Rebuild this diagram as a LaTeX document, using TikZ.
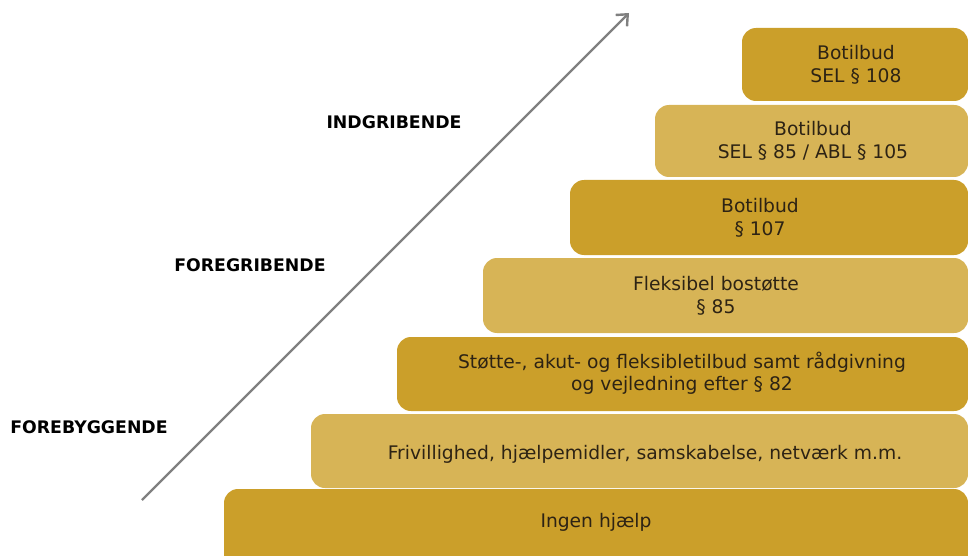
\documentclass[tikz,border=0pt]{standalone}
\usepackage{fontspec}
\setmainfont{DejaVu Sans}
\usetikzlibrary{arrows.meta}
\definecolor{darkgold}{RGB}{203,159,42}
\definecolor{lightgold}{RGB}{215,180,86}
\definecolor{boxtext}{RGB}{45,35,20}
\definecolor{arrowgray}{RGB}{128,128,128}
\tikzset{
  stepbox/.style={rounded corners=14pt, draw=none},
  darkbox/.style={stepbox, fill=darkgold},
  lightbox/.style={stepbox, fill=lightgold},
  boxlabel/.style={text=boxtext, font=\fontsize{18.7}{22.5}\selectfont, align=center, inner sep=0pt},
  levellabel/.style={font=\bfseries\fontsize{17.3}{20}\selectfont, text=black, inner sep=0pt}
}
\begin{document}
\begin{tikzpicture}[x=1pt,y=-1pt]
\useasboundingbox (0,0) rectangle (968,556);
\clip (0,0) rectangle (968,556);
% steps
\path[darkbox]  (742,28)  rectangle (968,101);
\path[lightbox] (655,105) rectangle (968,177);
\path[darkbox]  (570,180) rectangle (968,255);
\path[lightbox] (483,258) rectangle (968,333);
\path[darkbox]  (397,337) rectangle (968,411);
\path[lightbox] (311,414) rectangle (968,488);
\path[darkbox]  (224,489) rectangle (968,580);
% box texts
\node[boxlabel] (b1) at (856,65) {Botilbud\\SEL § 108};
\node[boxlabel] (b2) at (813,141) {Botilbud\\SEL § 85 / ABL § 105};
\node[boxlabel] (b3) at (760,218) {Botilbud\\§ 107};
\node[boxlabel] (b4) at (716,296) {Fleksibel bostøtte\\§ 85};
\node[boxlabel] (b5) at (682,373) {Støtte-, akut- og fleksibletilbud samt rådgivning\\og vejledning efter § 82};
\node[boxlabel] (b6) at (645,454) {Frivillighed, hjælpemidler, samskabelse, netværk m.m.};
\node[boxlabel] (b7) at (596,522) {Ingen hjælp};
% level labels
\node[levellabel] (l1) at (394,122) {INDGRIBENDE};
\node[levellabel] (l2) at (250,265) {FOREGRIBENDE};
\node[levellabel] (l3) at (89,427) {FOREBYGGENDE};
% arrow
\coordinate (as) at (142,500);
\coordinate (ae) at (629,13);
\draw[arrowgray, line width=2.4pt, -{Straight Barb[length=9pt,width=16pt,line width=2.4pt]}] (as) -- (ae);
\end{tikzpicture}
\end{document}
